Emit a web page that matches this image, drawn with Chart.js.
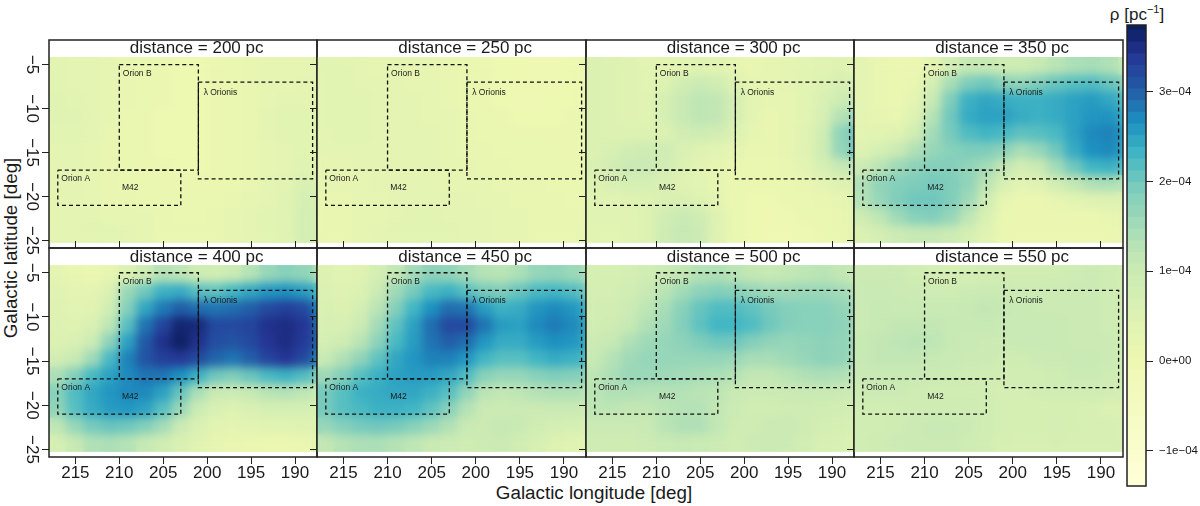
<!DOCTYPE html>
<html>
<head>
<meta charset="utf-8">
<title>Orion density slices</title>
<script src="https://cdn.jsdelivr.net/npm/chart.js@4"></script>
<style>
 html,body{margin:0;padding:0;background:#fff;overflow:hidden}
 #page{position:relative;width:1200px;height:506px;font-family:"Liberation Sans",Arial,sans-serif;color:#1a1a1a}
 canvas{position:absolute}
 .lab{position:absolute;white-space:nowrap;font-size:18.8px;line-height:20px}
 .lab sup{font-size:11px;line-height:0}
</style>
</head>
<body>
<div id="page">
 <div class="lab" style="left:594px;top:483px;transform:translateX(-50%)">Galactic longitude [deg]</div>
 <div class="lab" style="left:11px;top:248px;transform:translate(-50%,-50%) rotate(-90deg)">Galactic latitude [deg]</div>
 <div class="lab" style="left:1137px;top:5px;transform:translateX(-50%);font-size:17px">ρ [pc<sup>−1</sup>]</div>
</div>
<script>
// all rho values are in units of 1e-5 pc^-1
const distances=[200,250,300,350,400,450,500,550];
const lonCenters=[217,215,213,211,209,207,205,203,201,199,197,195,193,191,189,187];
const latEdges=[-4.2,-6.1,-8,-9.9,-11.8,-13.7,-15.6,-17.5,-19.4,-21.3,-23.2,-25.2];
const lonTicks=[215,210,205,200,195,190];
const latTicks=[-5,-10,-15,-20,-25];

const rho200=[
 [35,30,30,25,20,15,10,5,5,10,15,20,25,25,25,30],
 [35,30,30,25,20,15,10,5,5,10,15,20,25,25,30,30],
 [40,35,30,25,20,15,10,5,5,10,15,20,25,30,30,35],
 [40,40,30,25,15,10,5,5,5,10,15,20,30,35,35,35],
 [35,35,30,20,15,10,5,5,5,10,15,20,30,35,35,35],
 [30,30,25,20,15,10,5,5,5,10,15,20,25,30,35,35],
 [30,30,25,20,15,10,10,5,5,10,15,20,25,30,40,45],
 [30,30,25,20,15,15,10,10,10,10,15,20,30,35,60,60],
 [30,30,25,20,20,15,15,15,15,15,20,25,30,40,70,70],
 [30,30,30,25,25,25,20,15,15,20,25,30,35,40,75,75],
 [30,30,35,35,30,25,20,20,20,20,25,30,35,40,75,75]];
const rho250=[
 [35,35,30,25,25,25,25,20,15,10,5,5,0,0,5,10],
 [35,35,30,30,30,25,25,20,15,10,5,0,0,0,5,10],
 [35,35,35,30,30,30,25,20,15,10,5,0,0,5,5,10],
 [35,35,35,30,30,30,25,25,20,15,10,5,5,5,10,15],
 [30,35,35,30,30,30,30,25,20,15,15,10,10,10,10,15],
 [30,30,30,30,30,30,30,25,20,20,15,15,15,10,10,15],
 [25,25,30,30,30,30,30,25,25,20,20,15,15,15,15,15],
 [25,25,25,30,30,30,30,25,25,25,20,20,20,15,15,15],
 [20,20,25,25,30,30,30,30,30,25,25,20,20,20,15,15],
 [20,20,25,25,30,35,35,30,30,30,25,25,20,20,20,20],
 [20,20,25,30,35,35,35,35,30,30,25,25,20,20,20,25]];
const rho300=[
 [55,50,45,35,30,35,40,35,25,20,25,30,35,40,45,40],
 [55,50,45,35,50,80,95,85,50,25,25,30,35,50,65,65],
 [55,50,45,40,70,105,120,115,75,30,25,25,35,60,90,110],
 [55,50,45,40,70,105,120,115,75,30,20,25,35,65,130,165],
 [55,50,50,50,55,80,90,80,55,25,20,25,40,85,170,205],
 [55,65,85,90,85,60,45,35,25,20,20,25,40,90,165,200],
 [60,80,100,100,80,55,35,25,20,15,15,20,35,65,105,125],
 [50,60,70,70,60,45,35,25,15,10,10,15,20,30,45,55],
 [40,40,45,50,60,60,50,30,15,5,5,10,15,20,25,40],
 [40,40,40,50,85,105,90,45,15,5,0,5,10,15,20,35],
 [35,35,40,50,90,110,95,45,15,5,0,0,5,10,20,30]];
const rho350=[
 [30,20,10,10,30,75,110,110,90,90,110,125,140,145,135,110],
 [30,20,10,20,75,145,190,200,180,170,190,205,215,220,205,175],
 [30,20,15,30,110,190,235,245,240,235,235,240,250,255,245,215],
 [30,25,20,50,130,200,240,250,250,240,235,240,250,260,262,235],
 [35,35,45,85,150,195,220,230,225,210,215,225,250,270,275,250],
 [50,70,100,135,165,180,190,190,175,145,165,200,240,265,270,245],
 [95,125,155,175,185,185,170,150,115,80,100,150,200,230,235,215],
 [135,170,185,190,195,190,170,125,65,35,45,80,115,135,140,125],
 [130,165,190,200,200,190,155,90,25,10,10,25,35,45,50,50],
 [90,120,155,180,185,165,120,60,15,10,10,10,10,10,20,30],
 [55,75,95,110,110,95,70,40,15,10,10,10,10,10,10,20]];
const rho400=[
 [30,20,15,25,55,95,130,120,90,85,100,130,165,180,170,140],
 [40,30,30,55,160,200,235,240,215,210,230,245,260,265,255,220],
 [45,35,40,85,185,245,280,300,290,285,290,300,320,330,320,270],
 [50,45,60,120,215,285,325,360,355,320,320,325,345,350,340,285],
 [55,60,95,175,250,305,345,368,345,315,310,320,340,350,335,290],
 [80,105,155,225,275,310,330,335,320,295,285,300,325,340,320,270],
 [140,185,225,250,270,285,285,265,235,200,190,205,225,235,220,180],
 [180,220,245,260,270,270,250,205,140,100,95,110,125,130,120,95],
 [170,215,240,255,260,250,215,160,95,60,50,60,70,70,70,60],
 [120,165,195,205,200,185,150,100,60,35,30,35,40,40,45,50],
 [70,110,135,140,130,110,85,60,40,25,20,15,10,10,15,30]];
const rho450=[
 [50,40,45,75,115,150,175,170,150,130,125,140,165,170,160,140],
 [55,45,55,100,155,195,225,235,215,195,190,205,225,230,220,190],
 [60,55,75,125,185,230,265,290,285,255,235,240,260,270,260,225],
 [65,65,95,150,210,250,290,320,320,285,255,250,270,280,270,240],
 [75,90,125,175,225,255,285,300,290,260,240,240,255,265,260,235],
 [105,135,170,210,245,260,275,275,260,230,215,215,230,240,235,215],
 [155,185,215,235,250,255,255,245,220,180,165,165,180,190,185,170],
 [195,215,235,240,245,245,235,215,170,125,115,120,130,135,135,125],
 [195,215,225,235,235,230,210,180,130,100,95,100,100,100,100,90],
 [165,185,195,200,195,180,160,135,105,100,110,105,85,75,70,65],
 [115,130,140,140,130,120,105,95,90,95,100,85,65,50,40,35]];
const rho500=[
 [70,70,75,85,100,115,130,135,125,115,110,115,120,125,115,105],
 [75,75,85,105,125,150,175,185,180,165,155,155,160,160,150,130],
 [80,80,95,120,145,180,205,220,220,210,195,185,180,180,170,150],
 [85,90,110,135,155,185,210,230,230,220,200,185,180,180,175,155],
 [95,110,135,155,165,175,190,200,200,185,170,165,170,175,170,155],
 [110,130,155,165,165,165,165,165,160,145,145,155,165,175,170,145],
 [120,140,160,160,155,150,145,140,130,115,115,125,135,140,135,120],
 [125,135,135,130,130,130,125,120,105,95,95,100,105,105,100,95],
 [120,120,115,115,125,130,130,115,95,85,85,90,90,85,80,75],
 [100,100,100,105,125,135,135,115,90,90,100,100,90,75,70,65],
 [90,90,90,95,105,110,105,95,85,95,100,95,80,65,60,55]];
const rho550=[
 [100,100,95,85,75,70,75,80,80,80,80,85,90,95,90,80],
 [105,105,100,95,90,90,95,100,100,95,95,95,95,95,90,80],
 [105,110,105,105,105,105,110,115,110,105,100,100,100,95,90,80],
 [105,110,115,115,115,110,110,110,105,105,105,105,100,95,90,80],
 [110,115,120,125,120,110,105,100,100,105,105,105,100,100,95,85],
 [110,115,115,115,110,105,100,95,90,90,95,100,105,105,95,85],
 [105,105,105,105,100,95,90,85,80,80,85,90,95,95,90,80],
 [95,95,95,90,85,85,85,80,75,75,80,85,85,85,80,75],
 [85,85,85,90,90,90,90,85,75,70,70,70,70,65,55,60],
 [85,85,90,100,105,105,95,85,75,70,70,75,70,65,65,65],
 [85,90,95,100,100,100,90,80,70,65,65,70,65,65,65,65]];
const panels=[rho200,rho250,rho300,rho350,rho400,rho450,rho500,rho550];

// regions marked in every panel
const orionBLon=[210,201,201,210,210], orionBLat=[-5,-5,-17,-17,-5];
const lambdaLon=[201,188,188,201,201], lambdaLat=[-7,-7,-18,-18,-7];
const orionALon=[217,203,203,217,217], orionALat=[-17,-17,-21,-21,-17];
const regionNames=["Orion B","λ Orionis","Orion A","M42"];
const regionNameLon=[209.6,200.4,216.6,209.7];
const regionNameLat=[-6,-8.2,-18,-19];

const cbLevels=[-139,-126,-113,-100,-87,-74,-61,-48,-35,-22,-9,4,17,30,43,56,69,82,95,108,121,134,147,160,173,186,199,212,225,238,251,264,277,290,303,316,329,342,355,368,374];
const cbTickValues=[-100,0,100,200,300];
const cbTickLabels=["−1e−04","0e+00","1e−04","2e−04","3e−04"];

const colorStops=[-139,5,110,190,230,265,300,340,374];
const colorHex=["#ffffd9","#edf8b1","#c7e9b4","#7fcdbb","#41b6c4","#1d91c0","#225ea8","#253494","#081d58"];

const FONT='"Liberation Sans",Arial,sans-serif';
const INK="#1a1a1a";
const colLeft=[49,317,586,854,1123];
const rowTop=[40,248,457];
const M={l:48,r:2,t:10,b:48};

function hexToRgb(h){return [1,3,5].map(i=>parseInt(h.substr(i,2),16));}
function colorFor(v){
 if(v<=colorStops[0]) return colorHex[0];
 for(let i=1;i<colorStops.length;i++){
  if(v<=colorStops[i]){
   const t=(v-colorStops[i-1])/(colorStops[i]-colorStops[i-1]);
   const a=hexToRgb(colorHex[i-1]),b=hexToRgb(colorHex[i]);
   return "rgb("+a.map((c,k)=>Math.round(c+(b[k]-c)*t)).join(",")+")";
  }
 }
 return colorHex[colorHex.length-1];
}
const minus=v=>"\u2212"+Math.abs(v);
const noPadding=s=>{s.paddingTop=0;s.paddingBottom=0;s.paddingLeft=0;s.paddingRight=0;};

// smooths the drawn cells, like the image interpolation of the original plot
const smoothCells={
 id:"smoothCells",
 beforeDatasetDraw(chart,args){
  if(args.meta.type!=="scatter"||chart.$smoothed) return;
  chart.$smoothed=true;
  const a=chart.chartArea,ctx=chart.ctx,y=chart.scales.y;
  const top=y.getPixelForValue(latEdges[0]),bot=y.getPixelForValue(latEdges[latEdges.length-1]);
  ctx.save();
  ctx.beginPath();ctx.rect(a.left,top,a.width,bot-top);ctx.clip();
  ctx.filter="blur(5px)";
  ctx.drawImage(ctx.canvas,a.left,top,a.width,bot-top,a.left,top,a.width,bot-top);
  ctx.restore();
 }
};

const frame={
 id:"frame",
 afterDraw(chart){
  const a=chart.chartArea,ctx=chart.ctx;
  ctx.save();
  ctx.strokeStyle="#222";ctx.lineWidth=1.5;
  ctx.strokeRect(a.left,a.top,a.width,a.height);
  ctx.restore();
 }
};

const panelText={
 id:"panelText",
 afterDatasetsDraw(chart,args,opts){
  const ctx=chart.ctx,x=chart.scales.x,y=chart.scales.y;
  ctx.save();
  ctx.fillStyle=INK;
  ctx.textBaseline="middle";
  ctx.textAlign="center";
  ctx.font="17px "+FONT;
  ctx.fillText("distance = "+opts.distance+" pc",x.getPixelForValue(201.2),y.getPixelForValue(-3.2));
  ctx.font="8.5px "+FONT;
  ctx.textAlign="left";
  regionNames.forEach((n,i)=>ctx.fillText(n,x.getPixelForValue(regionNameLon[i]),y.getPixelForValue(regionNameLat[i])));
  ctx.restore();
 }
};

function addCanvas(left,top,w,h){
 const c=document.createElement("canvas");
 c.width=w;c.height=h;
 c.style.left=left+"px";c.style.top=top+"px";
 c.style.width=w+"px";c.style.height=h+"px";
 document.getElementById("page").appendChild(c);
 return c;
}

function regionLine(lons,lats){
 return {
  type:"scatter",order:1,showLine:true,
  data:lons.map((v,i)=>({x:v,y:lats[i]})),
  borderColor:"#111",borderWidth:1.3,borderDash:[4,3],pointRadius:0,fill:false
 };
}

panels.forEach((vals,idx)=>{
 const col=idx%4,row=idx<4?0:1;
 const w=colLeft[col+1]-colLeft[col],h=rowTop[row+1]-rowTop[row];
 const canvas=addCanvas(colLeft[col]-M.l,rowTop[row]-M.t,w+M.l+M.r,h+M.t+M.b);
 const cells=vals.map((cols,r)=>({
  type:"bar",order:2,
  data:lonCenters.map(lon=>({x:lon,y:[latEdges[r+1],latEdges[r]]})),
  backgroundColor:cols.map(colorFor),
  barPercentage:1,categoryPercentage:1,grouped:false,inflateAmount:0.6,borderWidth:0
 }));
 const lonAxis={
  type:"linear",min:187.5,max:218,reverse:true,offset:false,
  border:{display:false},
  grid:{drawOnChartArea:false,drawTicks:true,tickLength:7,color:"#222",lineWidth:1,offset:false},
  afterBuildTicks(s){s.ticks=lonTicks.map(v=>({value:v}));}
 };
 const scales={
  x:{...lonAxis,display:row===1,position:"bottom",
   ticks:{autoSkip:false,maxRotation:0,padding:-1,color:INK,font:{family:FONT,size:17}},
   afterFit(s){s.height=M.b;noPadding(s);}},
  y:{type:"linear",min:-25.85,max:-2.2,position:"left",
   border:{display:false},
   grid:{drawOnChartArea:false,drawTicks:true,tickLength:7,color:"#222",lineWidth:1},
   afterBuildTicks(s){s.ticks=latTicks.map(v=>({value:v}));},
   ticks:{display:col===0,autoSkip:false,minRotation:-90,maxRotation:-90,crossAlign:"center",padding:-4,color:INK,font:{family:FONT,size:17},
    callback:v=>minus(v)},
   afterFit(s){s.width=M.l;noPadding(s);}}
 };
 if(row===1){
  scales.x2={...lonAxis,position:"top",ticks:{display:false},afterFit(s){s.height=M.t;noPadding(s);}};
 }
 new Chart(canvas,{
  type:"bar",
  data:{datasets:[...cells,regionLine(orionBLon,orionBLat),regionLine(lambdaLon,lambdaLat),regionLine(orionALon,orionALat)]},
  options:{
   responsive:false,animation:false,events:[],
   layout:{padding:{left:0,right:M.r,top:row===0?M.t:0,bottom:0}},
   plugins:{legend:{display:false},tooltip:{enabled:false},panelText:{distance:distances[idx]}},
   scales
  },
  plugins:[smoothCells,panelText,frame]
 });
});

// colour bar
const cbCanvas=addCanvas(1120,15,80,480);
new Chart(cbCanvas,{
 type:"bar",
 data:{
  labels:["rho"],
  datasets:cbLevels.slice(0,-1).map((lo,i)=>({
   data:[[lo,cbLevels[i+1]]],
   backgroundColor:colorFor((lo+cbLevels[i+1])/2),
   barPercentage:1,categoryPercentage:1,grouped:false,inflateAmount:0.4,borderWidth:0
  }))
 },
 options:{
  responsive:false,animation:false,events:[],
  layout:{padding:{left:7,right:0,top:10,bottom:9}},
  plugins:{legend:{display:false},tooltip:{enabled:false}},
  scales:{
   x:{display:false},
   y:{type:"linear",min:-139,max:374,position:"right",
    border:{display:false},
    grid:{drawOnChartArea:false,drawTicks:true,tickLength:7,color:"#222"},
    afterBuildTicks(s){s.ticks=cbTickValues.map(v=>({value:v}));},
    ticks:{autoSkip:false,padding:6,color:INK,font:{family:FONT,size:11.5},
     callback:v=>cbTickLabels[cbTickValues.indexOf(v)]},
    afterFit(s){s.width=54;noPadding(s);}}
  }
 },
 plugins:[frame]
});
</script>
</body>
</html>
